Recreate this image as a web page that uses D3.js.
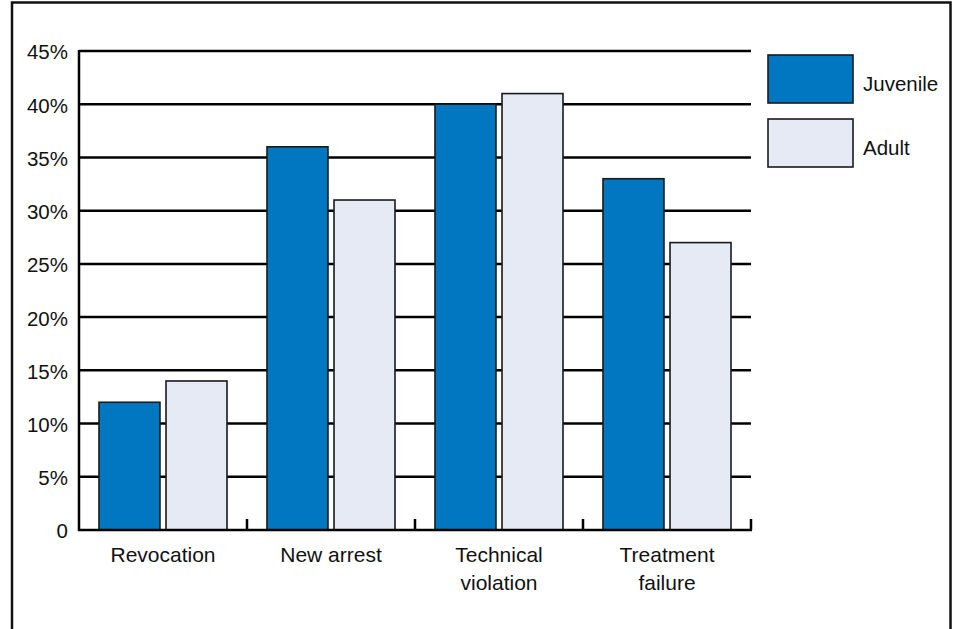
<!DOCTYPE html>
<html>
<head>
<meta charset="utf-8">
<script src="https://cdn.jsdelivr.net/npm/d3@7"></script>
<style>
  html, body { margin: 0; padding: 0; background: #fff; }
  svg { display: block; }
  text { font-family: "Liberation Sans", Arial, sans-serif; fill: #111; }
</style>
</head>
<body>
<svg id="chart" width="958" height="629"></svg>
<script>
// Outcome categories (label lines) and percentages for each group
const categories = ["Revocation", "New arrest", "Technical violation", "Treatment failure"];
const categoryLines = [["Revocation"], ["New arrest"], ["Technical", "violation"], ["Treatment", "failure"]];
const seriesNames = ["Juvenile", "Adult"];
const juvenile = [12, 36, 40, 33];
const adult = [14, 31, 41, 27];
const yTicks = [0, 5, 10, 15, 20, 25, 30, 35, 40, 45];
const colors = ["#0077c0", "#e6eaf4"];

const svg = d3.select("#chart");
const margin = { left: 79, right: 751, top: 51, bottom: 530 };

// outer frame (open at the bottom edge)
svg.append("rect")
  .attr("x", 12).attr("y", 2.5)
  .attr("width", 938.5).attr("height", 660)
  .attr("fill", "none").attr("stroke", "#111").attr("stroke-width", 2.5);

const x0 = d3.scaleBand().domain(categories).range([margin.left, margin.right]).paddingInner(0).paddingOuter(0);
const x1 = d3.scaleBand().domain(seriesNames).range([20, x0.bandwidth() - 20]).paddingInner(0.09);
const y = d3.scaleLinear().domain([0, 45]).range([margin.bottom, margin.top]);

// horizontal gridlines
svg.append("g").selectAll("line").data(yTicks.filter(d => d > 0)).join("line")
  .attr("x1", margin.left).attr("x2", margin.right)
  .attr("y1", d => y(d)).attr("y2", d => y(d))
  .attr("stroke", "#000").attr("stroke-width", 2.5);

// y tick labels
svg.append("g").selectAll("text").data(yTicks).join("text")
  .attr("x", 68).attr("y", d => y(d) + 3)
  .attr("text-anchor", "end").attr("dominant-baseline", "middle")
  .attr("font-size", 20.5)
  .text(d => d === 0 ? "0" : d + "%");

// bars
const rows = categories.map((c, i) => ({ cat: c, vals: [juvenile[i], adult[i]] }));
const groups = svg.append("g").selectAll("g").data(rows).join("g")
  .attr("transform", d => `translate(${x0(d.cat)},0)`);
groups.selectAll("rect").data(d => d.vals.map((v, j) => ({ key: seriesNames[j], v, j }))).join("rect")
  .attr("x", d => x1(d.key)).attr("width", x1.bandwidth())
  .attr("y", d => y(d.v)).attr("height", d => y(0) - y(d.v))
  .attr("fill", d => colors[d.j])
  .attr("stroke", "#1a1a1a").attr("stroke-width", 1.6);

// axes lines
svg.append("line").attr("x1", margin.left).attr("x2", margin.left)
  .attr("y1", margin.top - 1).attr("y2", margin.bottom + 1)
  .attr("stroke", "#000").attr("stroke-width", 2.5);
svg.append("line").attr("x1", margin.left - 1).attr("x2", margin.right + 1)
  .attr("y1", margin.bottom).attr("y2", margin.bottom)
  .attr("stroke", "#000").attr("stroke-width", 2.5);

// category boundary ticks
const boundaries = categories.map(c => x0(c) + x0.bandwidth());
svg.append("g").selectAll("line").data(boundaries).join("line")
  .attr("x1", d => d).attr("x2", d => d)
  .attr("y1", margin.bottom - 11).attr("y2", margin.bottom)
  .attr("stroke", "#000").attr("stroke-width", 2.5);

// category labels
const labels = svg.append("g").selectAll("text").data(categories).join("text")
  .attr("text-anchor", "middle").attr("font-size", 21)
  .attr("transform", d => `translate(${x0(d) + x0.bandwidth() / 2},562)`);
labels.selectAll("tspan").data((d, i) => categoryLines[i]).join("tspan")
  .attr("x", 0).attr("dy", (d, i) => i === 0 ? 0 : 28).text(d => d);

// legend
const legend = svg.append("g").selectAll("g").data(seriesNames).join("g")
  .attr("transform", (d, i) => `translate(768,${55 + i * 64})`);
legend.append("rect").attr("width", 85).attr("height", 48)
  .attr("fill", (d, i) => colors[i]).attr("stroke", "#1a1a1a").attr("stroke-width", 1.6);
legend.append("text").attr("x", 95).attr("y", 36).attr("font-size", 20.5).text(d => d);
</script>
</body>
</html>
